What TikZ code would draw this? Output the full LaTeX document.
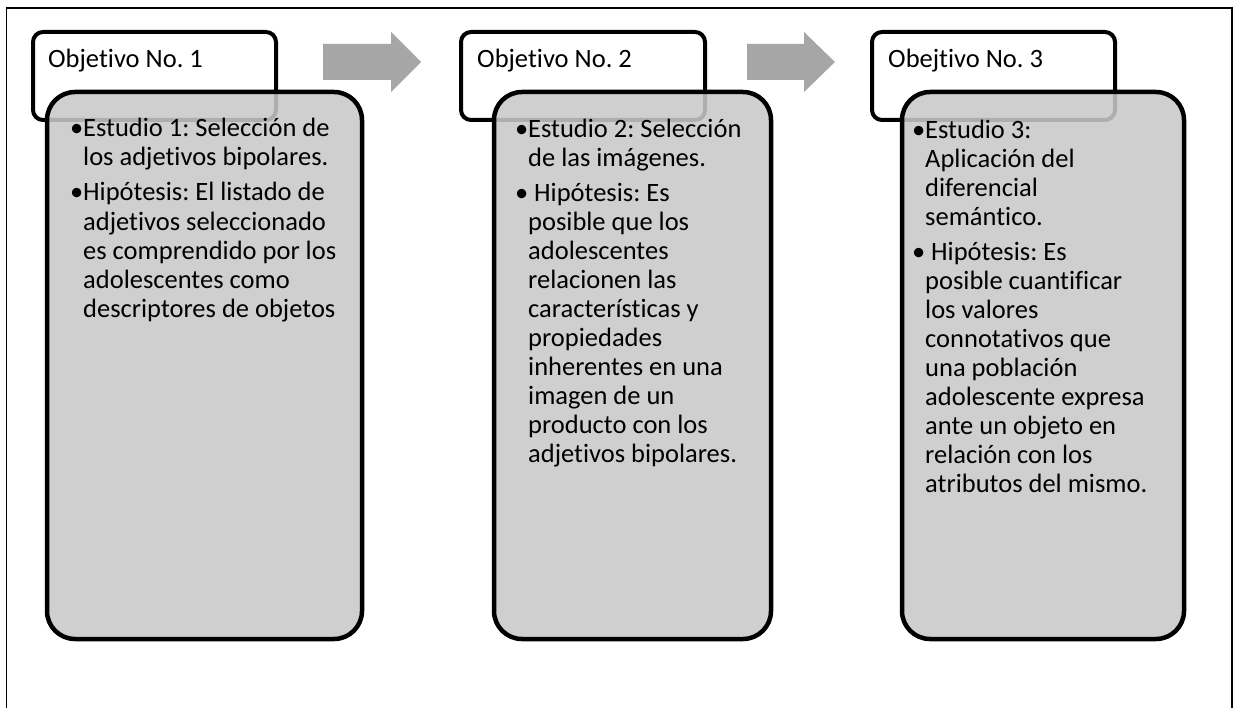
\documentclass[tikz,border=0pt]{standalone}
\usepackage{fontspec}
\setmainfont{Carlito}[Ligatures={NoCommon}]
\definecolor{boxgray}{RGB}{201,201,201}
\definecolor{arrowgray}{RGB}{166,166,166}
\begin{document}
\frenchspacing
\begin{tikzpicture}[x=1pt,y=-1pt,
  header/.style={draw=black, line width=4pt, rounded corners=10pt, fill=white, inner sep=0pt, outer sep=0pt},
  body/.style={draw=black, line width=4.5pt, rounded corners=28pt, fill=boxgray, fill opacity=0.87, draw opacity=1, inner sep=0pt, outer sep=0pt},
  title/.style={anchor=base west, inner sep=0pt, font=\fontsize{26.5}{29}\selectfont},
  btext/.style={anchor=base west, inner sep=0pt, align=left, font=\fontsize{26.5}{29}\selectfont},
  arrowfill/.style={fill=arrowgray}
]
\useasboundingbox (0,0) rectangle (1238,708);
\fill[white] (0,0) rectangle (1238,708);
\draw[line width=1.5pt] (6.5,708) -- (6.5,8) -- (1232,8) -- (1232,708);

% box 1
\node[header, minimum width=243, minimum height=88] (h1) at (154.5,76) {};
\node[body, minimum width=315, minimum height=547] (b1) at (204.5,365.5) {};
\node[title] (t1) at (48,68) {Objetivo No. 1};
\node[btext] (x1) at (83,317) {\llap{•}Estudio 1: Selección de\\
los adjetivos bipolares.\\[6pt]
\llap{•}Hipótesis: El listado de\\
adjetivos seleccionado\\
es comprendido por los\\
adolescentes como\\
descriptores de objetos};

% box 2
\node[header, minimum width=244, minimum height=88] (h2) at (583,76) {};
\node[body, minimum width=277, minimum height=547] (b2) at (632.5,365.5) {};
\node[title] (t2) at (477,68) {Objetivo No. 2};
\node[btext] (x2) at (528,462) {\llap{•}Estudio 2: Selección\\
de las imágenes.\\[6pt]
\llap{•}\ Hipótesis: Es\\
posible que los\\
adolescentes\\
relacionen las\\
características y\\
propiedades\\
inherentes en una\\
imagen de un\\
producto con los\\
adjetivos bipolares.};

% box 3
\node[header, minimum width=243, minimum height=88] (h3) at (993.5,76) {};
\node[body, minimum width=282, minimum height=547] (b3) at (1043,365.5) {};
\node[title] (t3) at (888,68) {Obejtivo No. 3};
\node[btext] (x3) at (925,492) {\llap{•}Estudio 3:\\
Aplicación del\\
diferencial\\
semántico.\\[6pt]
\llap{•}\ Hipótesis: Es\\
posible cuantificar\\
los valores\\
connotativos que\\
una población\\
adolescente expresa\\
ante un objeto en\\
relación con los\\
atributos del mismo.};

% arrows
\fill[arrowfill] (323,44) -- (391,44) -- (391,32) -- (421,62) -- (391,92) -- (391,80) -- (323,80) -- cycle;
\fill[arrowfill] (747,44) -- (804,44) -- (804,32) -- (835,62) -- (804,92) -- (804,80) -- (747,80) -- cycle;
\end{tikzpicture}
\end{document}
